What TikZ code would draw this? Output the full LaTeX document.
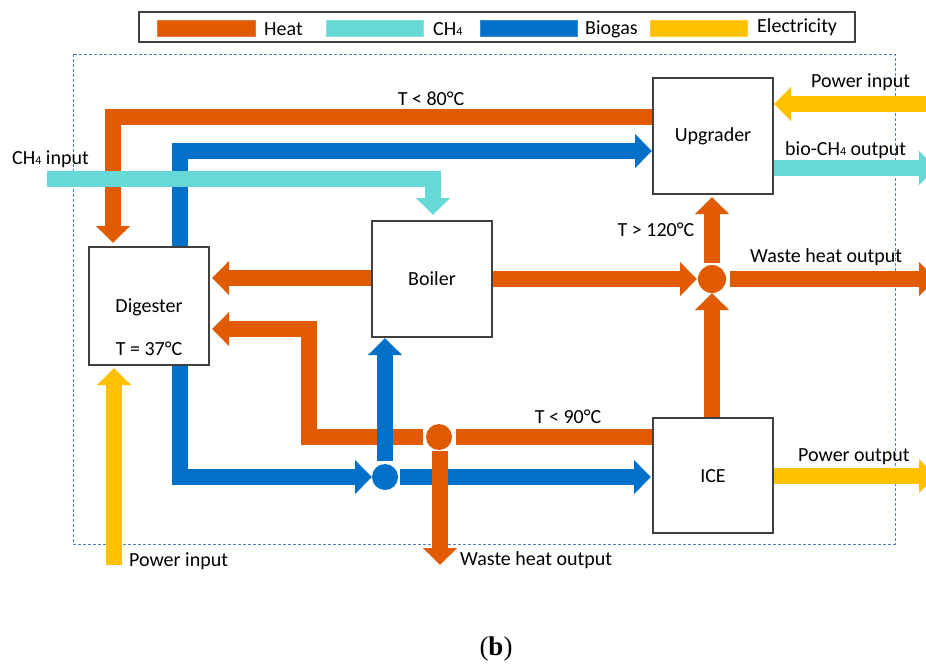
\documentclass[tikz,border=0pt]{standalone}
\usepackage{fontspec}
\setmainfont{Carlito}
\newfontfamily\capfont{Liberation Serif}
\usetikzlibrary{arrows.meta}
\definecolor{heatc}{RGB}{224,90,0}
\definecolor{ch4c}{RGB}{102,217,214}
\definecolor{bioc}{RGB}{0,112,200}
\definecolor{elecc}{RGB}{255,192,0}
\definecolor{framec}{RGB}{79,129,189}
\definecolor{boxc}{RGB}{64,64,64}
\newcommand\mysub[1]{{\fontsize{12}{12}\selectfont #1}}
\tikzset{
  flow/.style={line width=16pt, line join=miter, -{Triangle[width=33pt,length=17pt]}},
  heatA/.style={flow, draw=heatc},
  bioA/.style={flow, draw=bioc},
  ch4A/.style={flow, draw=ch4c},
  elecA/.style={flow, draw=elecc},
  heatL/.style={line width=16pt, line join=miter, draw=heatc},
  unit/.style={draw=boxc, line width=1.1pt, fill=white, minimum width=120pt, inner sep=0pt},
  lbl/.style={font=\fontsize{20}{22}\selectfont, inner sep=0pt, text=black},
  swatch/.style={line width=0.4pt},
}
\begin{document}
\begin{tikzpicture}[x=1pt,y=-1pt]
\useasboundingbox (0,0) rectangle (926,664);
% legend
\node[draw=boxc, line width=1.1pt, minimum width=716pt, minimum height=30pt, inner sep=0pt] (legend) at (497,27) {};
\node[swatch, fill=heatc, draw=heatc!80!white, minimum width=98pt, minimum height=16pt, inner sep=0pt] (swh) at (206,28) {};
\node[lbl, anchor=west] (lh) at (264,29) {Heat};
\node[swatch, fill=ch4c, draw=ch4c!80!white, minimum width=97pt, minimum height=16pt, inner sep=0pt] (swc) at (374.5,28) {};
\node[lbl, anchor=west] (lc) at (433,29) {CH\mysub{4}};
\node[swatch, fill=bioc, draw=bioc!80!white, minimum width=97pt, minimum height=16pt, inner sep=0pt] (swb) at (528.5,28) {};
\node[lbl, anchor=west] (lb) at (585,29) {Biogas};
\node[swatch, fill=elecc, draw=elecc!80!white, minimum width=97pt, minimum height=16pt, inner sep=0pt] (swe) at (698.5,28) {};
\node[lbl, anchor=west] (le) at (757,27) {Electricity};
% frame
\draw[framec, line width=1pt, dash pattern=on 3pt off 2pt] (73,54) rectangle (895,544);
% units
\node[unit, minimum height=116pt] (upg) at (713,136) {};
\node[lbl] (upgt) at (713,136) {Upgrader};
\node[unit, minimum height=118pt] (dig) at (149,306) {};
\node[lbl] (digt) at (149,307) {Digester};
\node[lbl] (digT) at (149,349) {T = 37°C};
\node[unit, minimum height=116pt] (boil) at (432,279) {};
\node[lbl] (boilt) at (432,279) {Boiler};
\node[unit, minimum height=115pt] (ice) at (713,475.5) {};
\node[lbl] (icet) at (713,476) {ICE};
% junctions
\node[circle, fill=heatc, minimum size=28pt, inner sep=0pt] (jh) at (712,279) {};
\node[circle, fill=heatc, minimum size=26pt, inner sep=0pt] (jw) at (439,437) {};
\node[circle, fill=bioc, minimum size=26pt, inner sep=0pt] (jb) at (385,477) {};
% heat top loop
\draw[heatA] (upg.west |- 0,117) -| (113,243);
% biogas to upgrader
\draw[bioA] (180,0 |- dig.north) |- (652,151);
% CH4 input
\coordinate (ch4in) at (47,179);
\draw[ch4A] (ch4in) -| (433,215);
% power input upgrader
\coordinate (pin) at (935,104);
\draw[elecA] (pin) -- (774,104);
% bio-CH4 output
\coordinate (bout) at (936,168);
\draw[ch4A] (upg.east |- 0,168) -- (bout);
% heat junction
\draw[heatA] (712,263) -- (712,197);
\draw[heatA] (boil.east |- 0,279) -- (697,279);
\coordinate (wout) at (936,279);
\draw[heatA] (730,279) -- (wout);
\draw[heatA] (ice.north -| 712,0) -- (712,293);
% boiler to digester
\draw[heatA] (boil.west |- 0,278) -- (212,278);
% lower heat loop
\draw[heatL] (ice.west |- 0,437) -- (456,437);
\draw[heatA] (423,437) -| (309,329) -- (212,329);
% biogas to boiler
\draw[bioA] (385,461) -- (385,338);
% biogas from digester
\draw[bioA] (180,0 |- dig.south) |- (372,477);
\draw[bioA] (400,477) -- (651,477);
% waste heat down
\coordinate (wdown) at (440,565);
\draw[heatA] (440,451) -- (wdown);
% power output
\coordinate (pout) at (936,476);
\draw[elecA] (ice.east |- 0,476) -- (pout);
% power input digester
\coordinate (pind) at (114,565);
\draw[elecA] (pind) -- (114,368);
% labels
\node[lbl] (t80) at (431,99) {T < 80°C};
\node[lbl, anchor=west] (ch4t) at (12,159) {CH\mysub{4} input};
\node[lbl, anchor=west] (pint) at (811,82) {Power input};
\node[lbl, anchor=west] (boutt) at (785,150) {bio-CH\mysub{4} output};
\node[lbl] (t120) at (656,230) {T > 120°C};
\node[lbl, anchor=west] (woutt) at (750,257) {Waste heat output};
\node[lbl] (t90) at (568,417) {T < 90°C};
\node[lbl, anchor=west] (poutt) at (798,457) {Power output};
\node[lbl, anchor=west] (wdownt) at (460,560) {Waste heat output};
\node[lbl, anchor=west] (pindt) at (129,561) {Power input};
\node[inner sep=0pt, font=\capfont\fontsize{27}{29}\selectfont] (cap) at (496,649) {(\textbf{b})};
\end{tikzpicture}
\end{document}
